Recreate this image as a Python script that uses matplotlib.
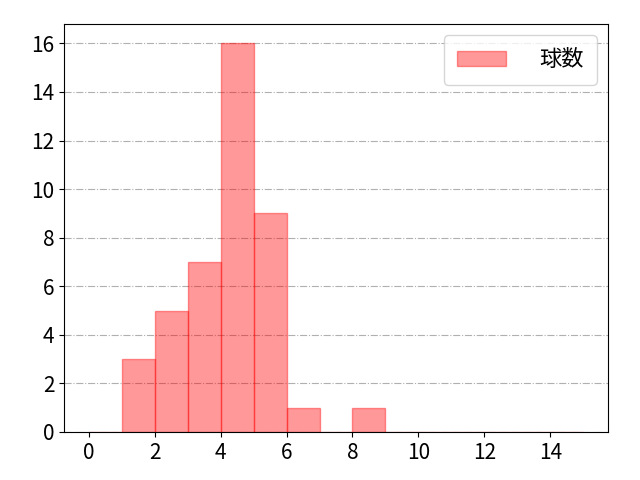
import numpy as np
import matplotlib.pyplot as plt

plt.rcParams['font.family'] = ['Noto Sans CJK JP', 'DejaVu Sans']

# pitch counts per plate appearance
bin_edges = list(range(0, 16))
counts = [0, 3, 5, 7, 16, 9, 1, 0, 1, 0, 0, 0, 0, 0, 0]
label = "球数"

fig, ax = plt.subplots(figsize=(6.4, 4.8), dpi=100)
ax.hist(bin_edges[:-1], bins=bin_edges, weights=counts, color='red', alpha=0.4,
        edgecolor='red', label=label)
ax.grid(axis='y', linestyle='-.', color='#b0b0b0', linewidth=0.8)
ax.set_axisbelow(True)
ax.tick_params(labelsize=15)
ax.set_xticks(range(0, 15, 2))
ax.set_yticks(range(0, 17, 2))
ax.legend(fontsize=16, loc='upper right', handlelength=2.2, handletextpad=1.5,
          borderpad=0.6)
plt.subplots_adjust(left=0.1, right=0.95, top=0.95, bottom=0.1)
plt.savefig('out.png')
